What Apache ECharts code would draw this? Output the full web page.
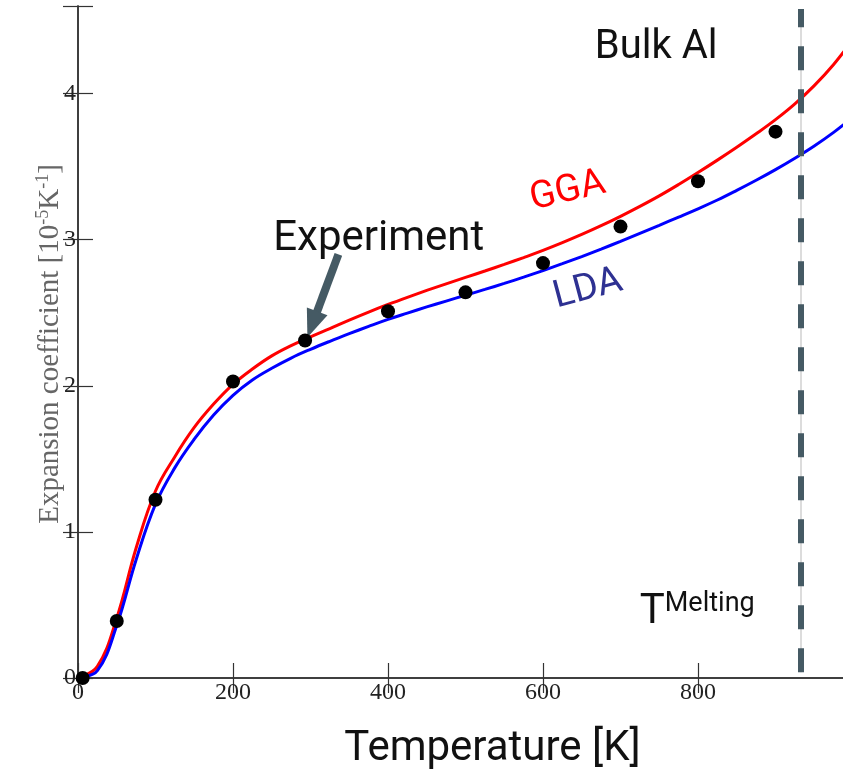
<!DOCTYPE html>
<html>
<head>
<meta charset="utf-8">
<script src="https://cdn.jsdelivr.net/npm/echarts@6/dist/echarts.min.js"></script>
<style>
html,body{margin:0;padding:0;background:#fff;}
#chart{width:843px;height:771px;}
</style>
</head>
<body>
<div id="chart"></div>
<script>
// ---- data ----
const temperatures = [0,25,50,75,100,125,150,175,200,225,250,275,300,325,350,375,400,425,450,475,500,525,550,575,600,625,650,675,700,725,750,775,800,825,850,875,900,925,950,975,1000];
const ggaValues   = [0,0.08,0.41,0.89,1.28,1.515,1.715,1.875,2.01,2.115,2.205,2.275,2.335,2.392,2.45,2.505,2.557,2.606,2.653,2.698,2.742,2.786,2.831,2.878,2.927,2.980,3.036,3.096,3.160,3.228,3.300,3.378,3.460,3.545,3.633,3.725,3.822,3.930,4.055,4.200,4.370];
const ldaValues   = [0,0.05,0.36,0.81,1.19,1.44,1.635,1.80,1.935,2.04,2.12,2.19,2.25,2.305,2.357,2.407,2.455,2.498,2.540,2.580,2.620,2.660,2.701,2.744,2.789,2.836,2.885,2.936,2.989,3.044,3.099,3.155,3.212,3.272,3.338,3.407,3.480,3.558,3.642,3.735,3.840];
const expTemperatures = [6,50,100,200,293,400,500,600,700,800,900];
const expValues       = [0,0.39,1.22,2.03,2.31,2.51,2.64,2.84,3.09,3.40,3.74];
const meltingPoint = 933;
const xTicks = [0,200,400,600,800];
const yTicks = [0,1,2,3,4];

const chart = echarts.init(document.getElementById('chart'), null, {renderer:'canvas'});
const serif = '"Liberation Serif","DejaVu Serif",serif';
const sans = 'Roboto,"Noto Sans",sans-serif';

const axisCommon = {
  axisLine:{show:true,lineStyle:{color:'#333',width:1.5}},
  axisTick:{show:true,inside:true,length:15,lineStyle:{color:'#333',width:1.2}},
  splitLine:{show:false}
};

chart.setOption({
  animation:false,
  backgroundColor:'#fff',
  grid:{left:78,top:6,width:775,height:672,containLabel:false,outerBoundsMode:'none'},
  xAxis:[
    Object.assign({type:'value',min:0,max:1000,interval:200,position:'bottom',
      name:'Temperature [K]',nameLocation:'middle',nameGap:50,
      nameTextStyle:{fontFamily:sans,fontSize:42,color:'#111',padding:[0,0,0,54]},
      axisLabel:{fontFamily:serif,fontSize:24,color:'#222',margin:3,
        formatter:v=>xTicks.includes(v)?String(v):''}},axisCommon),
    Object.assign({type:'value',min:0,max:1000,interval:200,position:'top',
      axisLabel:{show:false}},axisCommon)
  ],
  yAxis:[
    Object.assign({type:'value',min:0,max:4.6,interval:1,position:'left',
      axisLabel:{fontFamily:serif,fontSize:24,color:'#222',margin:2,
        formatter:v=>yTicks.includes(v)?String(v):''}},axisCommon),
    Object.assign({type:'value',min:0,max:4.6,interval:1,position:'right',
      axisLabel:{show:false}},axisCommon)
  ],
  series:[
    {name:'GGA',type:'line',data:temperatures.map((t,i)=>[t,ggaValues[i]]),
     smooth:0.4,showSymbol:false,lineStyle:{color:'#ff0000',width:3},z:3},
    {name:'LDA',type:'line',data:temperatures.map((t,i)=>[t,ldaValues[i]]),
     smooth:0.4,showSymbol:false,lineStyle:{color:'#0000ff',width:3},z:3,
     markLine:{silent:true,symbol:'none',label:{show:false},
       data:[
         [{coord:[meltingPoint,0.04],lineStyle:{color:'#dcdcdc',width:2,type:'solid'}},{coord:[meltingPoint,4.58]}],
         [{coord:[meltingPoint,0.04],lineStyle:{color:'#455a64',width:6,type:[24,19]}},{coord:[meltingPoint,4.58]}]
       ]}},
    {name:'Experiment',type:'scatter',data:expTemperatures.map((t,i)=>[t,expValues[i]]),
     symbol:'circle',symbolSize:14,itemStyle:{color:'#000',opacity:1},z:5}
  ]
});

// ---- annotations placed in data coordinates ----
function px(x,y){return chart.convertToPixel({xAxisIndex:0,yAxisIndex:0},[x,y]);}
const labelAnchors = {bulk:[746,4.315], exp:[388,3.0], gga:[632,3.33], lda:[658,2.66], melt:[799,0.45]};
const arrowTail = [336,2.90], arrowTip = [296,2.33];

const pb = px(...labelAnchors.bulk), pe = px(...labelAnchors.exp), pg = px(...labelAnchors.gga),
      pl = px(...labelAnchors.lda), pm = px(...labelAnchors.melt);
const a0 = px(...arrowTail), a1 = px(...arrowTip);
const dx = a1[0]-a0[0], dy = a1[1]-a0[1], len = Math.hypot(dx,dy);
const ux = dx/len, uy = dy/len, nx = -uy, ny = ux;
const headLen = 28, headW = 11;
const base = [a1[0]-ux*headLen, a1[1]-uy*headLen];
const yMid = px(0,2.3)[1];

chart.setOption({
  graphic:[
    {type:'text',x:50,y:yMid+2,rotation:Math.PI/2,
     style:{text:'Expansion coefficient [10{s|-5}K{s|-1}]',align:'center',verticalAlign:'middle',
       fontFamily:serif,fontSize:29,fill:'#666',lineHeight:32,
       rich:{s:{fontFamily:serif,fontSize:18,fill:'#666',verticalAlign:'top',lineHeight:32}}}},
    {type:'text',x:pb[0],y:pb[1],style:{text:'Bulk Al',font:'40px '+sans,fill:'#111',align:'center',verticalAlign:'middle'}},
    {type:'text',x:pe[0],y:pe[1],style:{text:'Experiment',font:'42px '+sans,fill:'#111',align:'center',verticalAlign:'middle'}},
    {type:'text',x:pg[0],y:pg[1],rotation:13*Math.PI/180,style:{text:'GGA',font:'38px '+sans,fill:'#ff0000',align:'center',verticalAlign:'middle'}},
    {type:'text',x:pl[0],y:pl[1],rotation:15*Math.PI/180,style:{text:'LDA',font:'38px '+sans,fill:'#2e3192',align:'center',verticalAlign:'middle'}},
    {type:'text',x:pm[0],y:pm[1],style:{text:'{t|T}{m|Melting}',align:'center',verticalAlign:'middle',
      rich:{t:{fontFamily:sans,fontSize:42,fill:'#111',lineHeight:44},m:{fontFamily:sans,fontSize:27,fill:'#111',verticalAlign:'top',lineHeight:44}}}},
    {type:'line',shape:{x1:a0[0],y1:a0[1],x2:base[0]+ux*2,y2:base[1]+uy*2},style:{stroke:'#455a64',lineWidth:8}},
    {type:'polygon',shape:{points:[[a1[0],a1[1]],[base[0]+nx*headW,base[1]+ny*headW],[base[0]-nx*headW,base[1]-ny*headW]]},style:{fill:'#455a64'}}
  ]
});
</script>
</body>
</html>
